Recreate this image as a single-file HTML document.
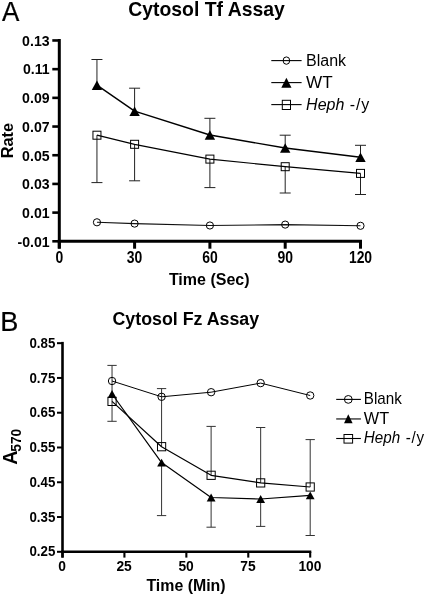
<!DOCTYPE html>
<html><head><meta charset="utf-8"><style>
html,body{margin:0;padding:0;background:#fff;}
svg{display:block;font-family:'Liberation Sans', sans-serif;will-change:transform;}
</style></head><body>
<svg width="425" height="597" viewBox="0 0 425 597" fill="#000">
<text transform="translate(1.9 20.9) scale(0.93 1.0)" font-size="28" font-weight="400" font-style="normal" text-anchor="start" stroke="#000" stroke-width="0.25">A</text>
<text transform="translate(206.5 15.9) scale(1.0 1.035)" font-size="19.4" font-weight="700" font-style="normal" text-anchor="middle" >Cytosol Tf Assay</text>
<line x1="59.3" y1="38.97" x2="59.3" y2="248.5" stroke="#000" stroke-width="3"/>
<line x1="52.3" y1="241.3" x2="59.3" y2="241.3" stroke="#000" stroke-width="2.6"/>
<text transform="translate(49.6 246.6) scale(0.917 1.0)" font-size="15.4" font-weight="700" font-style="normal" text-anchor="end" >-0.01</text>
<line x1="52.3" y1="212.61" x2="59.3" y2="212.61" stroke="#000" stroke-width="2.6"/>
<text transform="translate(49.6 217.91) scale(0.917 1.0)" font-size="15.4" font-weight="700" font-style="normal" text-anchor="end" >0.01</text>
<line x1="52.3" y1="183.92" x2="59.3" y2="183.92" stroke="#000" stroke-width="2.6"/>
<text transform="translate(49.6 189.22) scale(0.917 1.0)" font-size="15.4" font-weight="700" font-style="normal" text-anchor="end" >0.03</text>
<line x1="52.3" y1="155.23" x2="59.3" y2="155.23" stroke="#000" stroke-width="2.6"/>
<text transform="translate(49.6 160.53) scale(0.917 1.0)" font-size="15.4" font-weight="700" font-style="normal" text-anchor="end" >0.05</text>
<line x1="52.3" y1="126.54" x2="59.3" y2="126.54" stroke="#000" stroke-width="2.6"/>
<text transform="translate(49.6 131.84) scale(0.917 1.0)" font-size="15.4" font-weight="700" font-style="normal" text-anchor="end" >0.07</text>
<line x1="52.3" y1="97.85" x2="59.3" y2="97.85" stroke="#000" stroke-width="2.6"/>
<text transform="translate(49.6 103.15) scale(0.917 1.0)" font-size="15.4" font-weight="700" font-style="normal" text-anchor="end" >0.09</text>
<line x1="52.3" y1="69.16" x2="59.3" y2="69.16" stroke="#000" stroke-width="2.6"/>
<text transform="translate(49.6 74.46) scale(0.917 1.0)" font-size="15.4" font-weight="700" font-style="normal" text-anchor="end" >0.11</text>
<line x1="52.3" y1="40.47" x2="59.3" y2="40.47" stroke="#000" stroke-width="2.6"/>
<text transform="translate(49.6 45.77) scale(0.917 1.0)" font-size="15.4" font-weight="700" font-style="normal" text-anchor="end" >0.13</text>
<line x1="57.8" y1="241.3" x2="362" y2="241.3" stroke="#000" stroke-width="3"/>
<line x1="59.3" y1="241.3" x2="59.3" y2="248.7" stroke="#000" stroke-width="3"/>
<text transform="translate(59.3 263) scale(0.87 1.0)" font-size="16" font-weight="700" font-style="normal" text-anchor="middle" >0</text>
<line x1="134.6" y1="241.3" x2="134.6" y2="248.7" stroke="#000" stroke-width="3"/>
<text transform="translate(134.6 263) scale(0.87 1.0)" font-size="16" font-weight="700" font-style="normal" text-anchor="middle" >30</text>
<line x1="209.9" y1="241.3" x2="209.9" y2="248.7" stroke="#000" stroke-width="3"/>
<text transform="translate(209.9 263) scale(0.87 1.0)" font-size="16" font-weight="700" font-style="normal" text-anchor="middle" >60</text>
<line x1="285.2" y1="241.3" x2="285.2" y2="248.7" stroke="#000" stroke-width="3"/>
<text transform="translate(285.2 263) scale(0.87 1.0)" font-size="16" font-weight="700" font-style="normal" text-anchor="middle" >90</text>
<line x1="360.5" y1="241.3" x2="360.5" y2="248.7" stroke="#000" stroke-width="3"/>
<text transform="translate(360.5 263) scale(0.87 1.0)" font-size="16" font-weight="700" font-style="normal" text-anchor="middle" >120</text>
<text transform="translate(209.2 284.8)" font-size="16" font-weight="700" font-style="normal" text-anchor="middle" >Time (Sec)</text>
<text transform="translate(13.1 140.6) rotate(-90)" font-size="16.4" font-weight="700" font-style="normal" text-anchor="middle" >Rate</text>
<line x1="96.95" y1="85.2" x2="96.95" y2="59.5" stroke="#222" stroke-width="1"/>
<line x1="91.45" y1="59.5" x2="102.45" y2="59.5" stroke="#222" stroke-width="1"/>
<line x1="134.6" y1="111.2" x2="134.6" y2="88.2" stroke="#222" stroke-width="1"/>
<line x1="129.1" y1="88.2" x2="140.1" y2="88.2" stroke="#222" stroke-width="1"/>
<line x1="209.9" y1="135" x2="209.9" y2="118.3" stroke="#222" stroke-width="1"/>
<line x1="204.4" y1="118.3" x2="215.4" y2="118.3" stroke="#222" stroke-width="1"/>
<line x1="285.2" y1="148" x2="285.2" y2="135.2" stroke="#222" stroke-width="1"/>
<line x1="279.7" y1="135.2" x2="290.7" y2="135.2" stroke="#222" stroke-width="1"/>
<line x1="360.5" y1="157.2" x2="360.5" y2="145.3" stroke="#222" stroke-width="1"/>
<line x1="355" y1="145.3" x2="366" y2="145.3" stroke="#222" stroke-width="1"/>
<line x1="96.95" y1="135.2" x2="96.95" y2="182.6" stroke="#222" stroke-width="1"/>
<line x1="91.45" y1="182.6" x2="102.45" y2="182.6" stroke="#222" stroke-width="1"/>
<line x1="134.6" y1="144.3" x2="134.6" y2="180.8" stroke="#222" stroke-width="1"/>
<line x1="129.1" y1="180.8" x2="140.1" y2="180.8" stroke="#222" stroke-width="1"/>
<line x1="209.9" y1="159.1" x2="209.9" y2="187.6" stroke="#222" stroke-width="1"/>
<line x1="204.4" y1="187.6" x2="215.4" y2="187.6" stroke="#222" stroke-width="1"/>
<line x1="285.2" y1="166.7" x2="285.2" y2="193" stroke="#222" stroke-width="1"/>
<line x1="279.7" y1="193" x2="290.7" y2="193" stroke="#222" stroke-width="1"/>
<line x1="360.5" y1="173.4" x2="360.5" y2="194.5" stroke="#222" stroke-width="1"/>
<line x1="355" y1="194.5" x2="366" y2="194.5" stroke="#222" stroke-width="1"/>
<polyline points="96.95,222.3 134.6,223.6 209.9,225.5 285.2,224.6 360.5,225.8" fill="none" stroke="#111" stroke-width="1.1" stroke-linejoin="round"/>
<polyline points="96.95,85.2 134.6,111.2 209.9,135 285.2,148 360.5,157.2" fill="none" stroke="#000" stroke-width="1.4" stroke-linejoin="round"/>
<polyline points="96.95,135.2 134.6,144.3 209.9,159.1 285.2,166.7 360.5,173.4" fill="none" stroke="#000" stroke-width="1.2" stroke-linejoin="round"/>
<circle cx="96.95" cy="222.3" r="3.6" fill="none" stroke="#000" stroke-width="1"/>
<circle cx="134.6" cy="223.6" r="3.6" fill="none" stroke="#000" stroke-width="1"/>
<circle cx="209.9" cy="225.5" r="3.6" fill="none" stroke="#000" stroke-width="1"/>
<circle cx="285.2" cy="224.6" r="3.6" fill="none" stroke="#000" stroke-width="1"/>
<circle cx="360.5" cy="225.8" r="3.6" fill="none" stroke="#000" stroke-width="1"/>
<polygon points="91.75,90 102.15,90 96.95,80.4" fill="#000"/>
<polygon points="129.4,116 139.8,116 134.6,106.4" fill="#000"/>
<polygon points="204.7,139.8 215.1,139.8 209.9,130.2" fill="#000"/>
<polygon points="280,152.8 290.4,152.8 285.2,143.2" fill="#000"/>
<polygon points="355.3,162 365.7,162 360.5,152.4" fill="#000"/>
<rect x="92.95" y="131.2" width="8" height="8" fill="none" stroke="#000" stroke-width="1"/>
<rect x="130.6" y="140.3" width="8" height="8" fill="none" stroke="#000" stroke-width="1"/>
<rect x="205.9" y="155.1" width="8" height="8" fill="none" stroke="#000" stroke-width="1"/>
<rect x="281.2" y="162.7" width="8" height="8" fill="none" stroke="#000" stroke-width="1"/>
<rect x="356.5" y="169.4" width="8" height="8" fill="none" stroke="#000" stroke-width="1"/>
<line x1="271.3" y1="60.6" x2="301.6" y2="60.6" stroke="#000" stroke-width="1.1"/>
<ellipse cx="286.4" cy="60.6" rx="3.3" ry="3.7" fill="none" stroke="#000" stroke-width="1"/>
<text transform="translate(306.1 65.9)" font-size="16" font-weight="400" font-style="normal" text-anchor="start" >Blank</text>
<line x1="271.3" y1="82.6" x2="301.6" y2="82.6" stroke="#000" stroke-width="1.1"/>
<polygon points="281.3,87.8 291.5,87.8 286.4,77.8" fill="#000"/>
<text transform="translate(306.1 87.9) scale(1.07 1.0)" font-size="16" font-weight="400" font-style="normal" text-anchor="start" >WT</text>
<line x1="271.3" y1="104.6" x2="301.6" y2="104.6" stroke="#000" stroke-width="1.1"/>
<rect x="282.3" y="100.3" width="8.2" height="9.2" fill="none" stroke="#000" stroke-width="1"/>
<text transform="translate(306.1 109.9)" font-size="16" font-weight="400" font-style="italic" text-anchor="start" >Heph</text>
<text transform="translate(349.8 109.9)" font-size="16" font-weight="400" font-style="normal" text-anchor="start" letter-spacing="0.8">-/y</text>
<text transform="translate(0.3 331.1) scale(0.97 1.0)" font-size="28" font-weight="400" font-style="normal" text-anchor="start" stroke="#000" stroke-width="0.25">B</text>
<text transform="translate(185.8 324.5) scale(1.0 1.03)" font-size="17.8" font-weight="700" font-style="normal" text-anchor="middle" >Cytosol Fz Assay</text>
<line x1="62.5" y1="341.88" x2="62.5" y2="557.6" stroke="#000" stroke-width="2.6"/>
<line x1="57" y1="551.8" x2="62.5" y2="551.8" stroke="#000" stroke-width="2.0"/>
<text transform="translate(55.3 556.4) scale(0.87 1.0)" font-size="15.3" font-weight="700" font-style="normal" text-anchor="end" >0.25</text>
<line x1="57" y1="517.03" x2="62.5" y2="517.03" stroke="#000" stroke-width="2.0"/>
<text transform="translate(55.3 521.63) scale(0.87 1.0)" font-size="15.3" font-weight="700" font-style="normal" text-anchor="end" >0.35</text>
<line x1="57" y1="482.26" x2="62.5" y2="482.26" stroke="#000" stroke-width="2.0"/>
<text transform="translate(55.3 486.86) scale(0.87 1.0)" font-size="15.3" font-weight="700" font-style="normal" text-anchor="end" >0.45</text>
<line x1="57" y1="447.49" x2="62.5" y2="447.49" stroke="#000" stroke-width="2.0"/>
<text transform="translate(55.3 452.09) scale(0.87 1.0)" font-size="15.3" font-weight="700" font-style="normal" text-anchor="end" >0.55</text>
<line x1="57" y1="412.72" x2="62.5" y2="412.72" stroke="#000" stroke-width="2.0"/>
<text transform="translate(55.3 417.32) scale(0.87 1.0)" font-size="15.3" font-weight="700" font-style="normal" text-anchor="end" >0.65</text>
<line x1="57" y1="377.95" x2="62.5" y2="377.95" stroke="#000" stroke-width="2.0"/>
<text transform="translate(55.3 382.55) scale(0.87 1.0)" font-size="15.3" font-weight="700" font-style="normal" text-anchor="end" >0.75</text>
<line x1="57" y1="343.18" x2="62.5" y2="343.18" stroke="#000" stroke-width="2.0"/>
<text transform="translate(55.3 347.78) scale(0.87 1.0)" font-size="15.3" font-weight="700" font-style="normal" text-anchor="end" >0.85</text>
<line x1="61.2" y1="551.8" x2="311.3" y2="551.8" stroke="#000" stroke-width="2.6"/>
<line x1="62.5" y1="551.8" x2="62.5" y2="557.6" stroke="#000" stroke-width="2.1"/>
<text transform="translate(62.2 570.5) scale(0.94 1.0)" font-size="14.7" font-weight="700" font-style="normal" text-anchor="middle" >0</text>
<line x1="124.42" y1="551.8" x2="124.42" y2="557.6" stroke="#000" stroke-width="2.1"/>
<text transform="translate(124.12 570.5) scale(0.94 1.0)" font-size="14.7" font-weight="700" font-style="normal" text-anchor="middle" >25</text>
<line x1="186.35" y1="551.8" x2="186.35" y2="557.6" stroke="#000" stroke-width="2.1"/>
<text transform="translate(186.05 570.5) scale(0.94 1.0)" font-size="14.7" font-weight="700" font-style="normal" text-anchor="middle" >50</text>
<line x1="248.27" y1="551.8" x2="248.27" y2="557.6" stroke="#000" stroke-width="2.1"/>
<text transform="translate(247.97 570.5) scale(0.94 1.0)" font-size="14.7" font-weight="700" font-style="normal" text-anchor="middle" >75</text>
<line x1="310.2" y1="551.8" x2="310.2" y2="557.6" stroke="#000" stroke-width="2.1"/>
<text transform="translate(309.9 570.5) scale(0.94 1.0)" font-size="14.7" font-weight="700" font-style="normal" text-anchor="middle" >100</text>
<text transform="translate(186 591.1)" font-size="15.9" font-weight="700" font-style="normal" text-anchor="middle" >Time (Min)</text>
<text transform="translate(17.1 464.7) rotate(-90)" font-size="19.6" font-weight="700">A<tspan font-size="13.8" dy="4.2" dx="-1.2">570</tspan></text>
<line x1="112.04" y1="381" x2="112.04" y2="365.4" stroke="#333" stroke-width="1"/>
<line x1="107.39" y1="365.4" x2="116.69" y2="365.4" stroke="#333" stroke-width="1"/>
<line x1="112.04" y1="381" x2="112.04" y2="421.3" stroke="#333" stroke-width="1"/>
<line x1="107.39" y1="421.3" x2="116.69" y2="421.3" stroke="#333" stroke-width="1"/>
<line x1="161.58" y1="446.7" x2="161.58" y2="388.6" stroke="#333" stroke-width="1"/>
<line x1="156.93" y1="388.6" x2="166.23" y2="388.6" stroke="#333" stroke-width="1"/>
<line x1="161.58" y1="462.6" x2="161.58" y2="515.6" stroke="#333" stroke-width="1"/>
<line x1="156.93" y1="515.6" x2="166.23" y2="515.6" stroke="#333" stroke-width="1"/>
<line x1="211.12" y1="497.5" x2="211.12" y2="527.2" stroke="#333" stroke-width="1"/>
<line x1="206.47" y1="527.2" x2="215.77" y2="527.2" stroke="#333" stroke-width="1"/>
<line x1="260.66" y1="499" x2="260.66" y2="526.4" stroke="#333" stroke-width="1"/>
<line x1="256.01" y1="526.4" x2="265.31" y2="526.4" stroke="#333" stroke-width="1"/>
<line x1="310.2" y1="495.3" x2="310.2" y2="535.5" stroke="#333" stroke-width="1"/>
<line x1="305.55" y1="535.5" x2="314.85" y2="535.5" stroke="#333" stroke-width="1"/>
<line x1="211.12" y1="475.3" x2="211.12" y2="426.4" stroke="#333" stroke-width="1"/>
<line x1="206.47" y1="426.4" x2="215.77" y2="426.4" stroke="#333" stroke-width="1"/>
<line x1="260.66" y1="482.9" x2="260.66" y2="427.5" stroke="#333" stroke-width="1"/>
<line x1="256.01" y1="427.5" x2="265.31" y2="427.5" stroke="#333" stroke-width="1"/>
<line x1="310.2" y1="487" x2="310.2" y2="439.6" stroke="#333" stroke-width="1"/>
<line x1="305.55" y1="439.6" x2="314.85" y2="439.6" stroke="#333" stroke-width="1"/>
<polyline points="112.04,381 161.58,396.8 211.12,392.2 260.66,383.1 310.2,395.5" fill="none" stroke="#000" stroke-width="1.0" stroke-linejoin="round"/>
<polyline points="112.04,394 161.58,462.6 211.12,497.5 260.66,499 310.2,495.3" fill="none" stroke="#000" stroke-width="1.2" stroke-linejoin="round"/>
<polyline points="112.04,401.4 161.58,446.7 211.12,475.3 260.66,482.9 310.2,487" fill="none" stroke="#000" stroke-width="1.2" stroke-linejoin="round"/>
<circle cx="112.04" cy="381" r="3.7" fill="none" stroke="#000" stroke-width="1"/>
<circle cx="161.58" cy="396.8" r="3.7" fill="none" stroke="#000" stroke-width="1"/>
<circle cx="211.12" cy="392.2" r="3.7" fill="none" stroke="#000" stroke-width="1"/>
<circle cx="260.66" cy="383.1" r="3.7" fill="none" stroke="#000" stroke-width="1"/>
<circle cx="310.2" cy="395.5" r="3.7" fill="none" stroke="#000" stroke-width="1"/>
<polygon points="107.64,397.9 116.44,397.9 112.04,390.1" fill="#000"/>
<polygon points="157.18,466.5 165.98,466.5 161.58,458.7" fill="#000"/>
<polygon points="206.72,501.4 215.52,501.4 211.12,493.6" fill="#000"/>
<polygon points="256.26,502.9 265.06,502.9 260.66,495.1" fill="#000"/>
<polygon points="305.8,499.2 314.6,499.2 310.2,491.4" fill="#000"/>
<rect x="107.94" y="397.3" width="8.2" height="8.2" fill="none" stroke="#000" stroke-width="1"/>
<rect x="157.48" y="442.6" width="8.2" height="8.2" fill="none" stroke="#000" stroke-width="1"/>
<rect x="207.02" y="471.2" width="8.2" height="8.2" fill="none" stroke="#000" stroke-width="1"/>
<rect x="256.56" y="478.8" width="8.2" height="8.2" fill="none" stroke="#000" stroke-width="1"/>
<rect x="306.1" y="482.9" width="8.2" height="8.2" fill="none" stroke="#000" stroke-width="1"/>
<line x1="336.2" y1="399.4" x2="360.9" y2="399.4" stroke="#000" stroke-width="1.1"/>
<ellipse cx="348.3" cy="399.4" rx="3.9" ry="3.9" fill="none" stroke="#000" stroke-width="1"/>
<text transform="translate(363.8 404) scale(1.0 1.05)" font-size="15.2" font-weight="400" font-style="normal" text-anchor="start" >Blank</text>
<line x1="336.2" y1="418.95" x2="360.9" y2="418.95" stroke="#000" stroke-width="1.1"/>
<polygon points="344,423.15 352.6,423.15 348.3,414.15" fill="#000"/>
<text transform="translate(363.8 423.55) scale(1.07 1.05)" font-size="15.2" font-weight="400" font-style="normal" text-anchor="start" >WT</text>
<line x1="336.2" y1="438.5" x2="360.9" y2="438.5" stroke="#000" stroke-width="1.1"/>
<rect x="344" y="434.5" width="8.6" height="8.6" fill="none" stroke="#000" stroke-width="1"/>
<text transform="translate(363.8 443.1) scale(1.0 1.05)" font-size="15.2" font-weight="400" font-style="italic" text-anchor="start" >Heph</text>
<text transform="translate(405.8 443.1) scale(1.0 1.05)" font-size="15.2" font-weight="400" font-style="normal" text-anchor="start" letter-spacing="0.7">-/y</text>
</svg>
</body></html>
